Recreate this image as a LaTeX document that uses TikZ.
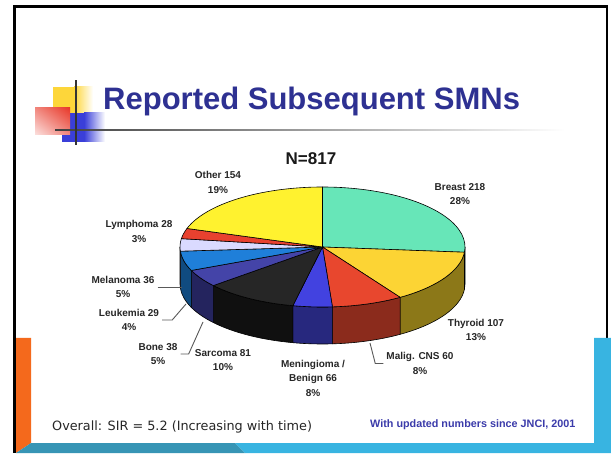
\documentclass[tikz,border=0pt]{standalone}
\usepackage{fontspec}
\setmainfont{Liberation Sans}
\newfontfamily\dejavu{DejaVu Sans}
\usetikzlibrary{calc, shadings}
\definecolor{titleblue}{HTML}{2E3192}
\definecolor{notepurple}{HTML}{3B3BAA}
\definecolor{slideorange}{HTML}{F4691C}
\definecolor{slideteal}{HTML}{3795B5}
\definecolor{slideblue}{HTML}{38B4E1}
\definecolor{logoyellow}{HTML}{FDD63A}
\definecolor{logoblue}{HTML}{3A3FD9}
\definecolor{logored}{HTML}{E8392A}
\definecolor{breast}{HTML}{67E6B8}
\definecolor{breastside}{HTML}{3FA07C}
\definecolor{thyroid}{HTML}{FCD434}
\definecolor{thyroidside}{HTML}{8C7818}
\definecolor{cns}{HTML}{E8472E}
\definecolor{cnsside}{HTML}{8B2B1C}
\definecolor{mening}{HTML}{4242E0}
\definecolor{meningside}{HTML}{27287E}
\definecolor{sarcoma}{HTML}{262626}
\definecolor{sarcomaside}{HTML}{101010}
\definecolor{bone}{HTML}{4444A8}
\definecolor{boneside}{HTML}{24245E}
\definecolor{leuk}{HTML}{1F7FD9}
\definecolor{leukside}{HTML}{104B80}
\definecolor{melanoma}{HTML}{DADAFF}
\definecolor{melanomaside}{HTML}{7A7A9A}
\definecolor{lymph}{HTML}{E8412F}
\definecolor{other}{HTML}{FFF22F}
\tikzset{
    slicelabel/.style={font=\bfseries\fontsize{10}{14.5}\selectfont, text=black!85, align=center, inner sep=3pt},
    leader/.style={draw=black!65, line width=0.9pt},
    pieedge/.style={draw=black, line width=0.6pt, line join=round}
}
\def\pierx{142.5}
\def\piery{60}
\def\piedep{37}

\begin{document}
\begin{tikzpicture}[x=1pt, y=1pt]
    \useasboundingbox (0,0) rectangle (611,453);
    \fill[white] (0,0) rectangle (611,453);
    \fill[black] (13,0) rectangle (16,447.5);
    \fill[black] (13,445) rectangle (608,447.5);
    \fill[black] (605.5,115) rectangle (608,447.5);
    \fill[slideorange] (16,115) -- (31,115) -- (31,10) -- (16,0) -- cycle;
    \fill[slideteal] (16,0) -- (31,10) -- (235,10) -- (245,0) -- cycle;
    \fill[slideblue] (245,0) -- (235,10) -- (594,10) -- (594,115) -- (611,115) -- (611,0) -- cycle;

    \fill[logoyellow] (53,340) rectangle (74,366);
    \shade[left color=logoyellow, right color=white] (74,340) rectangle (93,366);
    \fill[logoblue] (62,311) rectangle (84,340);
    \shade[left color=logoblue, right color=white] (84,311) rectangle (105,340);
    \shade[lower left=logored!15, upper right=logored, lower right=logored!60, upper left=logored!60] (35,318) rectangle (70,345);
    \shade[left color=black!75, right color=white] (55,322.3) rectangle (565,323.7);
    \draw[black!80, line width=1.4pt] (76,308) -- (76,373);
    \node[anchor=base west, inner sep=0, text=titleblue, font=\bfseries\fontsize{31}{36}\selectfont] (title) at (103,343) {Reported Subsequent SMNs};

    \coordinate (ctr) at (322.5,206);
    \foreach \a/\b/\col in {0/-5/breastside, -5/-57/thyroidside, -57/-86/cnsside, -86/-102/meningside, -102/-140/sarcomaside, -140/-157/boneside, -157/-176/leukside, -176/-180/melanomaside}
        \filldraw[pieedge, fill=\col] (ctr) ++({\pierx*cos(\a)},{\piery*sin(\a)}) arc[start angle=\a, end angle=\b, x radius=\pierx, y radius=\piery] -- ++(0,-\piedep) arc[start angle=\b, end angle=\a, x radius=\pierx, y radius=\piery] -- cycle;
    \foreach \a/\b/\col in {90/-5/breast, -5/-57/thyroid, -57/-86/cns, -86/-102/mening, -102/-140/sarcoma, -140/-157/bone, -157/-176/leuk, -176/-188/melanoma, -188/-198/lymph, -198/-270/other}
        \filldraw[pieedge, fill=\col] (ctr) -- ++({\pierx*cos(\a)},{\piery*sin(\a)}) arc[start angle=\a, end angle=\b, x radius=\pierx, y radius=\piery] -- cycle;

    \node[font=\bfseries\fontsize{17}{20}\selectfont, text=black!90] (total) at (311,294) {N=817};
    \node[slicelabel] (lother) at (218,270.5) {Other 154\\19\%};
    \node[slicelabel] (lbreast) at (460,259) {Breast 218\\28\%};
    \node[slicelabel] (lthyroid) at (476,123) {Thyroid 107\\13\%};
    \node[slicelabel] (lcns) at (420,89.5) {Malig. CNS 60\\8\%};
    \node[slicelabel] (lmening) at (313,75) {Meningioma /\\Benign 66\\8\%};
    \node[slicelabel] (lsarcoma) at (223,93) {Sarcoma 81\\10\%};
    \node[slicelabel] (lbone) at (158,99) {Bone 38\\5\%};
    \node[slicelabel] (lleuk) at (129,133) {Leukemia 29\\4\%};
    \node[slicelabel] (lmelanoma) at (123,166) {Melanoma 36\\5\%};
    \node[slicelabel] (llymph) at (139,221.5) {Lymphoma 28\\3\%};

    \coordinate (melpt) at (182,166);
    \coordinate (leukpt) at (186,149);
    \coordinate (bonept) at (203,131);
    \coordinate (cnspt) at (370,110);
    \draw[leader] (lmelanoma.east) -- (melpt);
    \draw[leader] (lleuk.east) -- ++(10,0) -- (leukpt);
    \draw[leader] (lbone.east) -- ++(8,0) -- (bonept);
    \draw[leader] (lcns.west) -- ++(-8,0) -- (cnspt);

    \node[anchor=base west, inner sep=0, text=black!85, font=\dejavu\fontsize{12.8}{15}\selectfont] (overall) at (52,23) {Overall: SIR = 5.2 (Increasing with time)};
    \node[anchor=base west, inner sep=0, text=notepurple, font=\bfseries\fontsize{10.8}{13}\selectfont] (note) at (370,26) {With updated numbers since JNCI, 2001};
\end{tikzpicture}
\end{document}
